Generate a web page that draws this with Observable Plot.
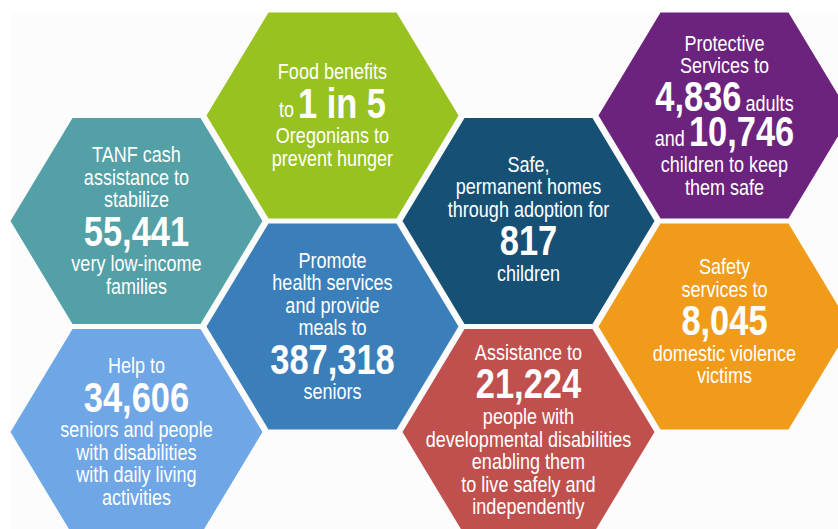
<!DOCTYPE html>
<html><head><meta charset="utf-8">
<script src="https://cdn.jsdelivr.net/npm/d3@7"></script>
<script src="https://cdn.jsdelivr.net/npm/@observablehq/plot@0.6"></script>
<style>html,body{margin:0;padding:0;background:#fff;overflow:hidden}</style>
</head><body><div id="chart"></div>
<script>
// ---- data ----
const programs = ["Food benefits", "TANF cash assistance", "Protective services", "Adoption",
  "Senior health & meals", "Domestic violence safety", "Daily living help", "Developmental disabilities"];
const figures = ["1 in 5", "55,441", "4,836", "10,746", "817", "387,318", "8,045", "34,606", "21,224"];
const captions = [
  ["Food benefits", "to {0}", "Oregonians to", "prevent hunger"],
  ["TANF cash", "assistance to", "stabilize", "{1}", "very low-income", "families"],
  ["Protective", "Services to", "{2} adults", "and {3}", "children to keep", "them safe"],
  ["Safe,", "permanent homes", "through adoption for", "{4}", "children"],
  ["Promote", "health services", "and provide", "meals to", "{5}", "seniors"],
  ["Safety", "services to", "{6}", "domestic violence", "victims"],
  ["Help to", "{7}", "seniors and people", "with disabilities", "with daily living", "activities"],
  ["Assistance to", "{8}", "people with", "developmental disabilities", "enabling them", "to live safely and", "independently"]
];
const colors = ["#97c21f", "#53a0a6", "#6c237e", "#165075", "#3a7fba", "#f19b1a", "#6ea6e6", "#c0504e"];

// ---- layout ----
const hexCol = [1, 0, 3, 2, 1, 3, 0, 2];
const hexRow = [0, 1, 0, 1, 2, 2, 3, 3];   // half-row units
const textShift = [0, 0, 0, -2, 0, -5, 0, -2];
const X0 = 136, DX = 196, Y0 = 115, DY = 105.5;
const A = 126, B = 64, H = 103;
const FONT = "'Liberation Sans', Arimo, Arial, sans-serif";
const SMALL = 22, BIG = 42, SQUEEZE = 0.82;

const ctx = document.createElement("canvas").getContext("2d");
function measure(t, big) {
  ctx.font = `${big ? "bold" : "normal"} ${big ? BIG : SMALL}px ${FONT}`;
  return ctx.measureText(t).width * SQUEEZE;
}

const hexPts = [];
const textPts = [];
programs.forEach((p, i) => {
  const cx = X0 + DX * hexCol[i], cy = Y0 + DY * hexRow[i];
  [[-A, 0], [-B, -H], [B, -H], [A, 0], [B, H], [-B, H]].forEach(([dx, dy]) =>
    hexPts.push({id: p, x: cx + dx, y: cy + dy, color: colors[i]}));
  const lines = captions[i].map(l => {
    const segs = [];
    l.split(/(\{\d+\})/).filter(s => s.trim() !== "").forEach(s => {
      const m = s.match(/^\{(\d+)\}$/);
      if (m) segs.push({t: figures[+m[1]], big: true});
      else segs.push({t: s.trim(), big: false});
    });
    return segs;
  });
  const isBig = lines.map(s => s.some(g => g.big));
  const ys = [0];
  for (let k = 1; k < lines.length; k++) {
    const gap = isBig[k] && isBig[k - 1] ? 35 : (isBig[k] || isBig[k - 1]) ? 32 : 22.5;
    ys.push(ys[k - 1] + gap);
  }
  const off = cy + textShift[i] - ys[ys.length - 1] / 2;
  const spaceW = measure(" ", false) * 0.8;
  lines.forEach((segs, k) => {
    const widths = segs.map(g => measure(g.t, g.big));
    const total = d3.sum(widths) + spaceW * (segs.length - 1);
    let x = cx - total / 2;
    segs.forEach((g, j) => {
      textPts.push({x, y: off + ys[k] + (g.big ? 0 : (segs.length > 1 ? 6 : 0)), text: g.t, big: g.big});
      x += widths[j] + spaceW;
    });
  });
});

const chart = Plot.plot({
  width: 838, height: 529,
  margin: 0,
  x: {domain: [0, 838], range: [0, 838], axis: null},
  y: {domain: [0, 529], range: [0, 529], axis: null},
  color: {type: "identity"},
  style: {fontFamily: FONT, background: "#fff"},
  marks: [
    Plot.frame({fill: "#fcfcfc", stroke: "none", insetLeft: 10, insetTop: 12}),
    Plot.line(hexPts, {x: "x", y: "y", z: "id", fill: "color", stroke: "none", curve: "linear-closed"}),
    Plot.text(textPts.filter(d => !d.big), {x: "x", y: "y", text: "text", textAnchor: "start",
      fill: "white", fontSize: SMALL, fontFamily: FONT, lineAnchor: "middle"}),
    Plot.text(textPts.filter(d => d.big), {x: "x", y: "y", text: "text", textAnchor: "start",
      fill: "white", fontSize: BIG, fontWeight: "bold", fontFamily: FONT, lineAnchor: "middle"})
  ]
});
// condense the lettering horizontally, anchored at each text's start point
d3.select(chart).selectAll("text").each(function () {
  const t = this.getAttribute("transform") || "";
  const x = this.getAttribute("x"), y = this.getAttribute("y");
  if (x != null && !/translate/.test(t)) {
    this.removeAttribute("x"); this.removeAttribute("y");
    this.setAttribute("transform", `${t} translate(${x},${y || 0}) scale(${SQUEEZE},1)`);
  } else {
    this.setAttribute("transform", `${t} scale(${SQUEEZE},1)`);
  }
});
document.getElementById("chart").appendChild(chart);
</script>
</body></html>
